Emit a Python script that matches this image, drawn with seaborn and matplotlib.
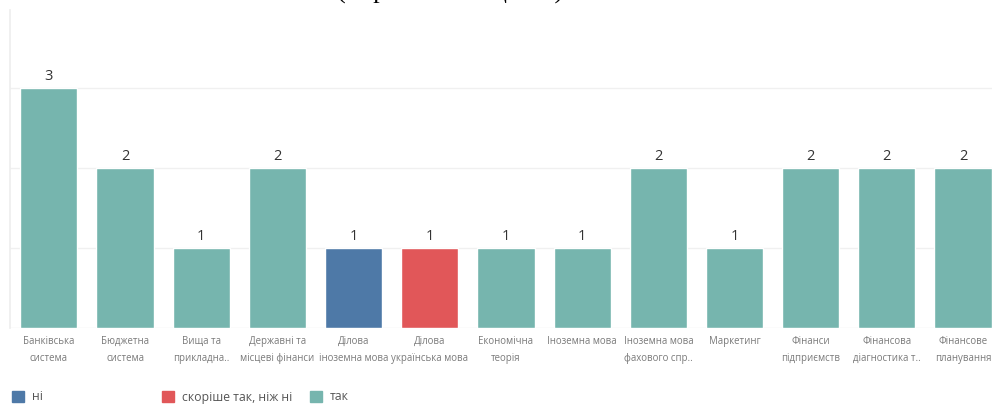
#!/usr/bin/env python3
"""Bar chart of course recommendations by answer type."""

import matplotlib

matplotlib.use("Agg")
import matplotlib.pyplot as plt
import matplotlib.patches as mpatches
import pandas as pd
import seaborn as sns

categories = [
    "Банківська\nсистема",
    "Бюджетна\nсистема",
    "Вища та\nприкладна..",
    "Державні та\nмісцеві фінанси",
    "Ділова\nіноземна мова",
    "Ділова\nукраїнська мова",
    "Економічна\nтеорія",
    "Іноземна мова",
    "Іноземна мова\nфахового спр..",
    "Маркетинг",
    "Фінанси\nпідприємств",
    "Фінансова\nдіагностика т..",
    "Фінансове\nпланування",
]
counts = [3, 2, 1, 2, 1, 1, 1, 1, 2, 1, 2, 2, 2]
answers = ["так", "так", "так", "так", "ні", "скоріше так, ніж ні",
           "так", "так", "так", "так", "так", "так", "так"]
answer_order = ["ні", "скоріше так, ніж ні", "так"]
palette = {"ні": "#4E79A7", "скоріше так, ніж ні": "#E15759", "так": "#76B5AE"}

sns.set_theme(style="white")
plt.rcParams["font.family"] = ["Open Sans", "DejaVu Sans"]


def main():
    df = pd.DataFrame({"course": categories, "count": counts, "answer": answers})

    fig = plt.figure(figsize=(9.92, 4.05), dpi=100)
    W, H = 992, 405
    ax = fig.add_axes([10 / W, (H - 328) / H, 982 / W, 318 / H])

    sns.barplot(
        data=df, x="course", y="count", hue="answer", hue_order=answer_order,
        palette=palette, dodge=False, width=0.75, saturation=1, ax=ax,
        legend=False,
    )
    for container in ax.containers:
        ax.bar_label(container, padding=3, fontsize=10.5, color="#333333")

    ax.set_yticks([1, 2, 3])
    ax.set_yticklabels([])
    ax.tick_params(axis="y", length=0)
    ax.grid(axis="y", color="#f0f0f0", linewidth=1)
    ax.set_axisbelow(True)
    ax.set_xlabel("")
    ax.set_ylabel("")
    ax.set_xticks([i + 0.5 for i in range(-1, 13)], minor=True)
    ax.set_xticklabels(categories, fontsize=6.9, color="#7a7a7a", linespacing=1.75)
    ax.tick_params(axis="x", which="major", length=0, pad=6)
    ax.tick_params(axis="x", which="minor", length=6, color="#e6e6e6", width=1)
    for side in ("top", "right", "bottom"):
        ax.spines[side].set_visible(False)
    ax.spines["left"].set_color("#eeeeee")
    ax.axhline(0, color="#eeeeee", linewidth=1, zorder=0)
    # limits last, after the minor ticks have been placed
    ax.set_ylim(0, 3.975)
    ax.set_xlim(-0.51, 12.38)

    # title mostly cut off by the top edge, only descenders show
    fig.text(450 / W, 1.0 + 1 / H, "(порівняння оцінок)", ha="center",
             va="baseline", fontsize=19, family="Liberation Serif", color="black")

    # legend with fixed slots
    for x, label in zip((12, 162, 310), answer_order):
        handle = mpatches.Patch(color=palette[label])
        fig.legend(
            handles=[handle], labels=[label], loc="center left",
            bbox_to_anchor=(x / W, 1 - 397 / H), frameon=False, fontsize=8.8,
            handlelength=1.0, handleheight=1.0, handletextpad=0.6,
            borderaxespad=0, borderpad=0, labelcolor="#555555",
        )

    fig.savefig("out.png", dpi=100)
    plt.close(fig)


if __name__ == "__main__":
    main()
